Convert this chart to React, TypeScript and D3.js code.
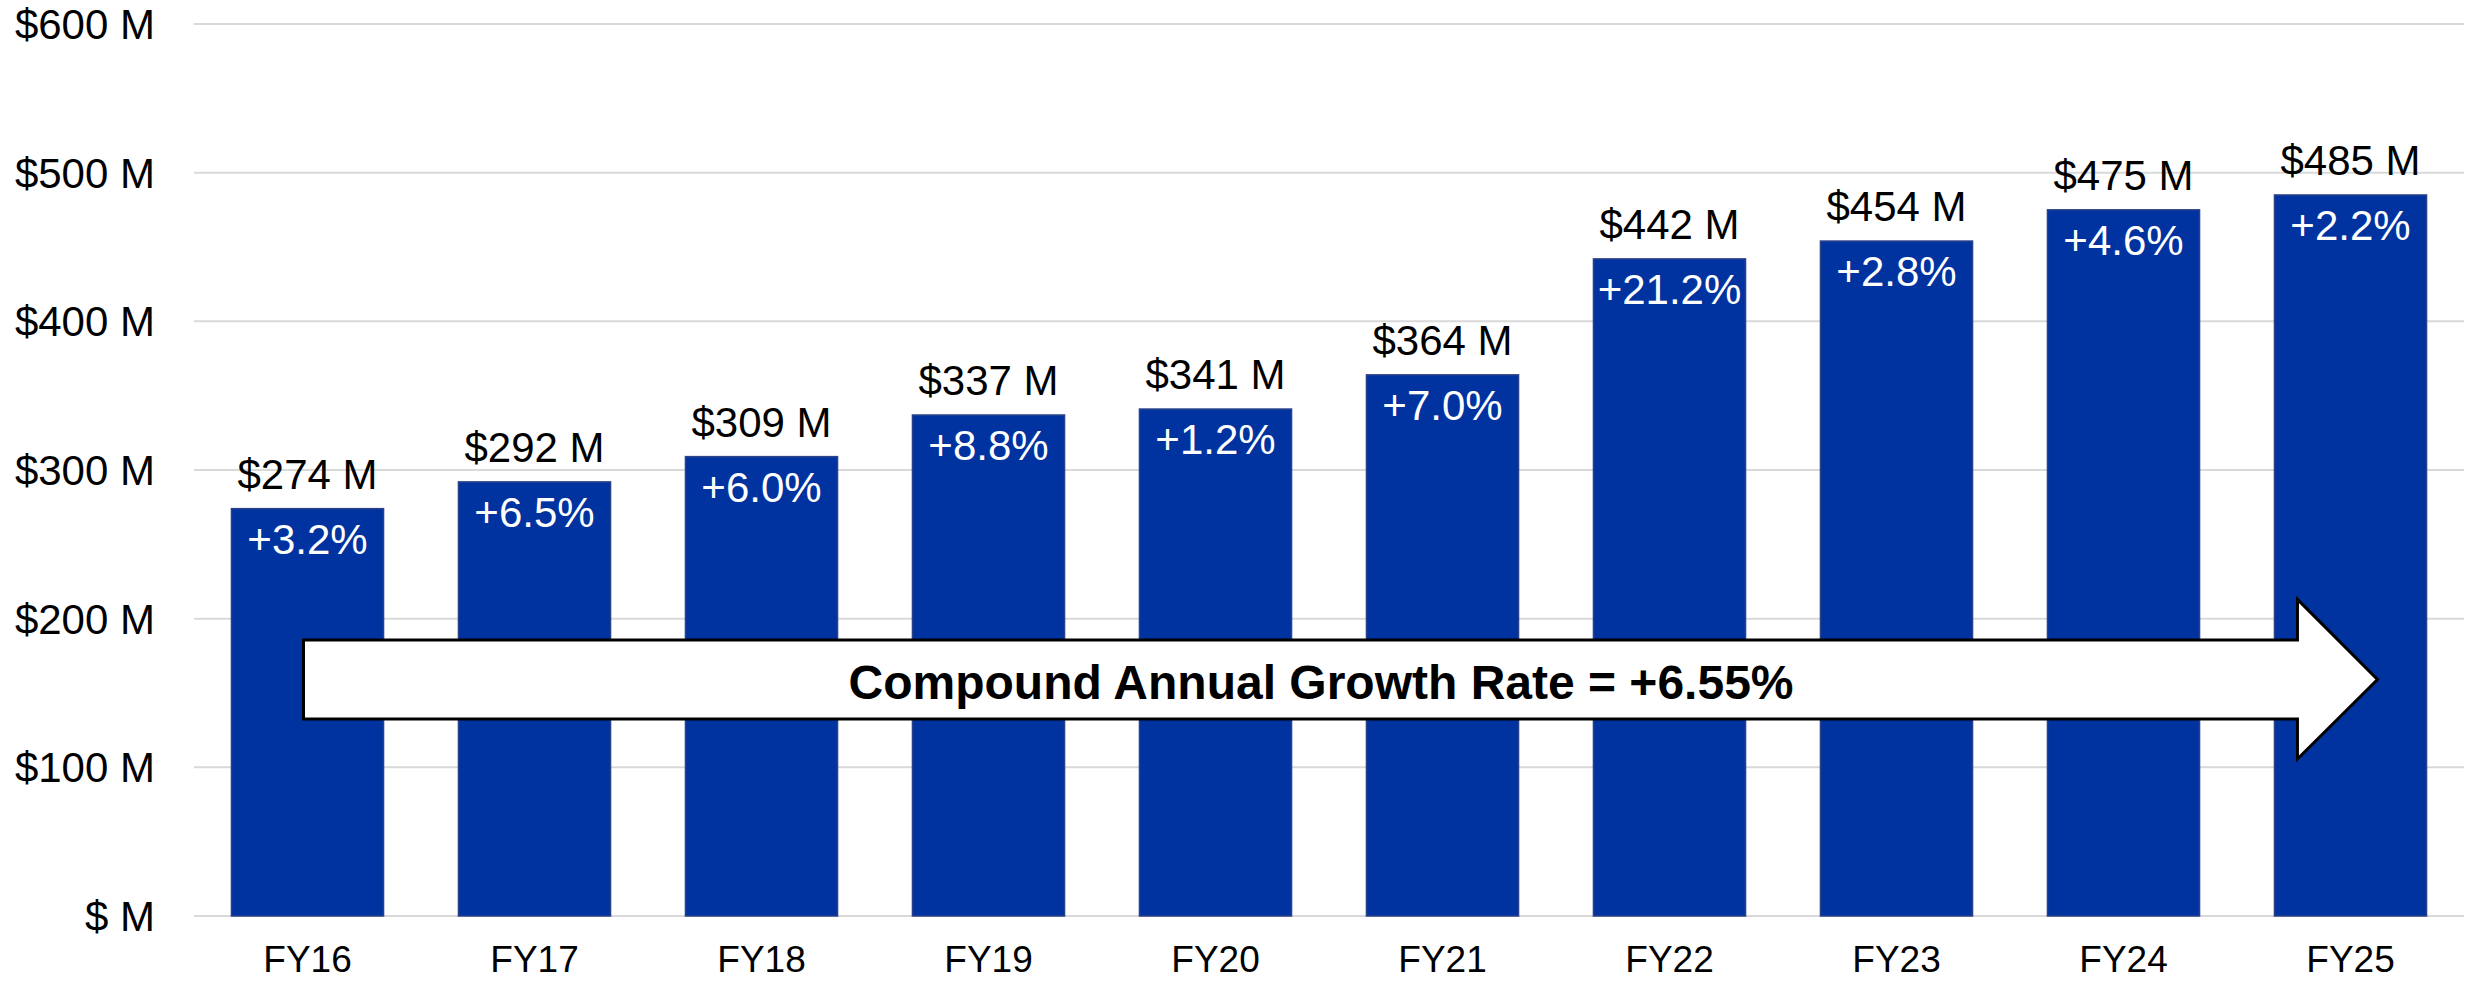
import React, { useEffect } from 'react'
import { scaleBand, scaleLinear } from 'd3'

const years = ['FY16', 'FY17', 'FY18', 'FY19', 'FY20', 'FY21', 'FY22', 'FY23', 'FY24', 'FY25']
const revenue = [274, 292, 309, 337, 341, 364, 442, 454, 475, 485]
const growth = ['+3.2%', '+6.5%', '+6.0%', '+8.8%', '+1.2%', '+7.0%', '+21.2%', '+2.8%', '+4.6%', '+2.2%']
const yTicks = [0, 100, 200, 300, 400, 500, 600]
const yTickLabels = ['$ M', '$100 M', '$200 M', '$300 M', '$400 M', '$500 M', '$600 M']
const cagrLabel = 'Compound Annual Growth Rate = +6.55%'

const W = 2471
const H = 988
const FONT = '"Liberation Sans", Arial, sans-serif'

const App = () => {
    useEffect(() => {
        document.body.style.margin = '0'
        document.body.style.overflow = 'hidden'
    }, [])

    const x = scaleBand()
        .domain(years)
        .range([194, 2464])
        .paddingInner(0.33)
        .paddingOuter(0.165)

    const y = scaleLinear().domain([0, 600]).range([916, 24])

    // arrow sits across the bars, from FY16 centre to just into FY25
    const first = x(years[0]) + x.bandwidth() / 2
    const last = x(years[years.length - 1])
    const bodyL = first - 4
    const headX = last + 23
    const tipX = last + x.bandwidth() / 2 + 27
    const bTop = y(185.7)
    const bBot = y(132.5)
    const hTop = y(213)
    const hBot = y(105.6)
    const mid = (bTop + bBot) / 2
    const arrowPts = [
        [bodyL, bTop], [headX, bTop], [headX, hTop], [tipX, mid],
        [headX, hBot], [headX, bBot], [bodyL, bBot],
    ].map(p => p.join(',')).join(' ')

    return (
        <svg width={W} height={H} style={{ display: 'block', background: '#fff' }} fontFamily={FONT}>
            {yTicks.map((t, i) => (
                <g key={t}>
                    <line x1={194} x2={2464} y1={y(t)} y2={y(t)} stroke="#d9d9d9" strokeWidth={2} />
                    <text x={155} y={y(t) + 15} textAnchor="end" fontSize={42} fill="#000">
                        {yTickLabels[i]}
                    </text>
                </g>
            ))}

            {years.map((yr, i) => {
                const bx = x(yr)
                const cx = bx + x.bandwidth() / 2
                const top = y(revenue[i])
                return (
                    <g key={yr}>
                        <rect x={bx} y={top} width={x.bandwidth()} height={y(0) - top}
                            fill="#0033a0" stroke="#2a4288" strokeWidth={1.5} />
                        <text x={cx} y={top - 20} textAnchor="middle" fontSize={42} fill="#000">
                            ${revenue[i]} M
                        </text>
                        <text x={cx} y={top + 45} textAnchor="middle" fontSize={42} fill="#fff">
                            {growth[i]}
                        </text>
                        <text x={cx} y={972} textAnchor="middle" fontSize={37} fill="#000">
                            {yr}
                        </text>
                    </g>
                )
            })}

            <polygon points={arrowPts} fill="#fff" stroke="#000" strokeWidth={3} strokeLinejoin="miter" />
            <text x={1321} y={mid + 20} textAnchor="middle" fontSize={48} fontWeight="bold" fill="#000">
                {cagrLabel}
            </text>
        </svg>
    )
}

export default App
